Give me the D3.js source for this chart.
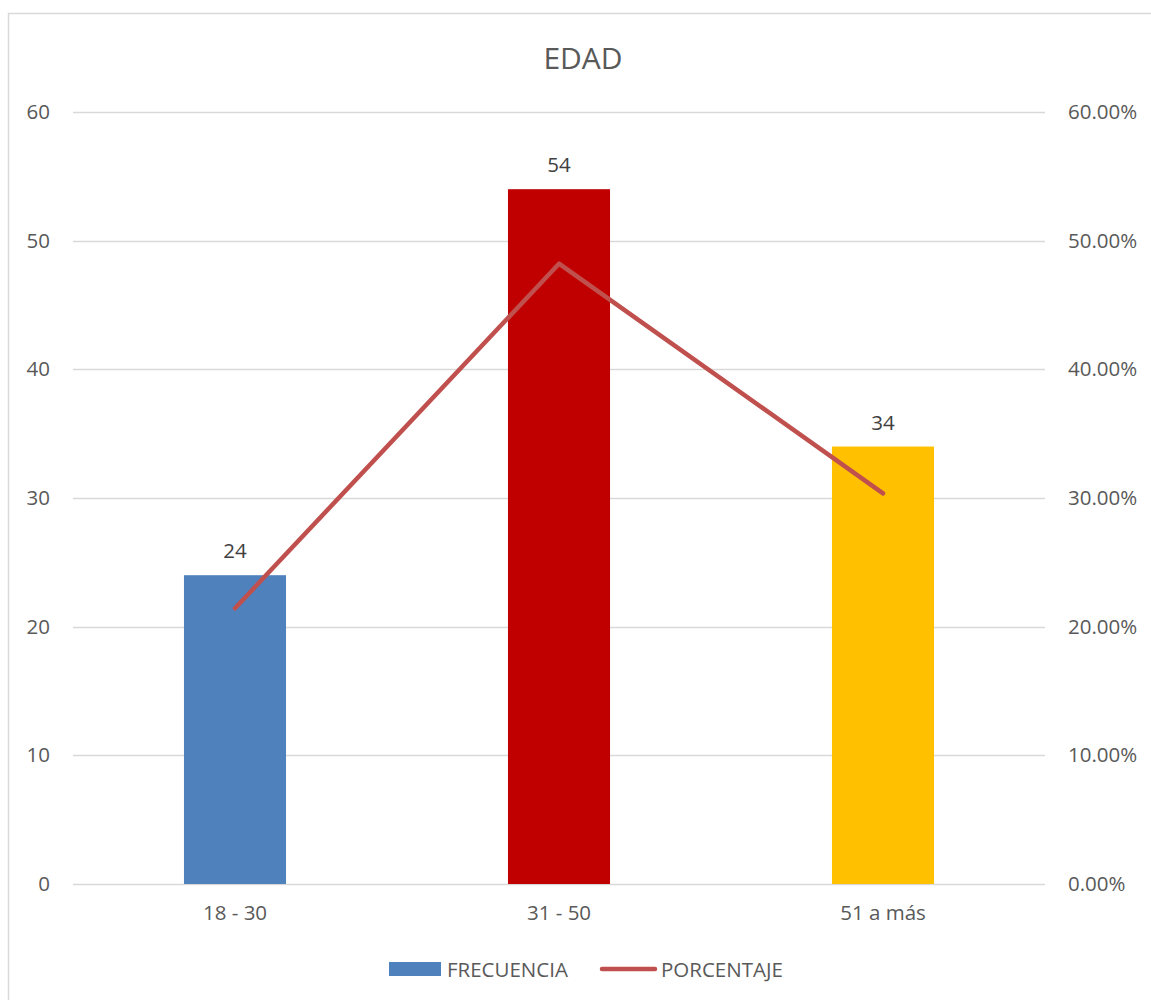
<!DOCTYPE html>
<html>
<head>
<meta charset="utf-8">
<script src="https://cdn.jsdelivr.net/npm/d3@7"></script>
<style>
  html, body { margin: 0; padding: 0; background: #fff; }
  svg { display: block; font-family: "Open Sans", sans-serif; }
</style>
</head>
<body>
<svg id="chart" width="1151" height="1000"></svg>
<script>
const categories = ["18 - 30", "31 - 50", "51 a más"];
const frecuencia = [24, 54, 34];
const porcentaje = [0.2143, 0.4821, 0.3036];
const barColors = ["#4F81BD", "#C00000", "#FFC000"];
const leftTicks = [0, 10, 20, 30, 40, 50, 60];
const rightTicks = [0, 0.1, 0.2, 0.3, 0.4, 0.5, 0.6];
const title = "EDAD";
const seriesNames = ["FRECUENCIA", "PORCENTAJE"];

const svg = d3.select("#chart");
const plot = { left: 73, right: 1045, top: 112, bottom: 884 };
const textColor = "#595959";
const fs = "20.5px";

// border
svg.append("rect")
  .attr("x", 8.5).attr("y", 13.5)
  .attr("width", 1160).attr("height", 1000)
  .attr("fill", "#fff").attr("stroke", "#D9D9D9").attr("stroke-width", 1.5);

const x = d3.scaleBand()
  .domain(categories)
  .range([plot.left, plot.right])
  .paddingInner(0.685)
  .paddingOuter(0.685 / 2);

const yL = d3.scaleLinear().domain([0, 60]).range([plot.bottom, plot.top]);
const yR = d3.scaleLinear().domain([0, 0.6]).range([plot.bottom, plot.top]);

// gridlines
svg.append("g").selectAll("line").data(leftTicks).join("line")
  .attr("x1", plot.left).attr("x2", plot.right)
  .attr("y1", d => Math.round(yL(d)) + 0.5).attr("y2", d => Math.round(yL(d)) + 0.5)
  .attr("stroke", "#D9D9D9").attr("stroke-width", 1.5);

// left axis
const axL = svg.append("g")
  .attr("transform", `translate(${plot.left},0)`)
  .call(d3.axisLeft(yL).tickValues(leftTicks).tickSize(0).tickPadding(23).tickFormat(d3.format("d")));
axL.select(".domain").remove();
axL.selectAll("text").attr("fill", textColor).style("font-size", fs).style("font-family", "Open Sans");

// right axis
const axR = svg.append("g")
  .attr("transform", `translate(${plot.right},0)`)
  .call(d3.axisRight(yR).tickValues(rightTicks).tickSize(0).tickPadding(23).tickFormat(d3.format(".2%")));
axR.select(".domain").remove();
axR.selectAll("text").attr("fill", textColor).style("font-size", fs).style("font-family", "Open Sans");

// bottom axis
const axB = svg.append("g")
  .attr("transform", `translate(0,${plot.bottom})`)
  .call(d3.axisBottom(x).tickSize(0).tickPadding(21));
axB.select(".domain").remove();
axB.selectAll("text").attr("fill", textColor).style("font-size", fs).style("font-family", "Open Sans");

// bars
svg.append("g").selectAll("rect").data(frecuencia).join("rect")
  .attr("x", (d, i) => x(categories[i]))
  .attr("y", d => yL(d))
  .attr("width", x.bandwidth())
  .attr("height", d => yL(0) - yL(d))
  .attr("fill", (d, i) => barColors[i]);

// data labels
svg.append("g").selectAll("text").data(frecuencia).join("text")
  .attr("x", (d, i) => x(categories[i]) + x.bandwidth() / 2)
  .attr("y", d => yL(d) - 17)
  .attr("text-anchor", "middle")
  .attr("fill", "#404040")
  .style("font-size", fs)
  .text(d => d);

// line
const line = d3.line()
  .x((d, i) => x(categories[i]) + x.bandwidth() / 2)
  .y(d => yR(d));
svg.append("path")
  .datum(porcentaje)
  .attr("d", line)
  .attr("fill", "none")
  .attr("stroke", "#C0504D")
  .attr("stroke-width", 4.5)
  .attr("stroke-linecap", "round")
  .attr("stroke-linejoin", "round");

// title
svg.append("text")
  .attr("x", 583).attr("y", 69)
  .attr("text-anchor", "middle")
  .attr("fill", textColor)
  .style("font-size", "30px")
  .text(title);

// legend
const lg = svg.append("g");
lg.append("rect").attr("x", 389).attr("y", 962).attr("width", 52).attr("height", 14).attr("fill", barColors[0]);
lg.append("text").attr("x", 447).attr("y", 977).attr("fill", textColor).style("font-size", fs).text(seriesNames[0]);
lg.append("line").attr("x1", 602).attr("x2", 655).attr("y1", 969).attr("y2", 969)
  .attr("stroke", "#C0504D").attr("stroke-width", 4.5).attr("stroke-linecap", "round");
lg.append("text").attr("x", 661).attr("y", 977).attr("fill", textColor).style("font-size", fs).text(seriesNames[1]);
</script>
</body>
</html>
